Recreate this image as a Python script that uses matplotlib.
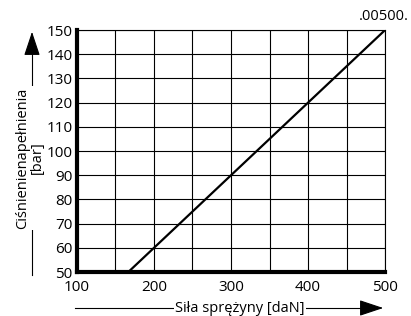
import matplotlib
matplotlib.use("Agg")

import matplotlib.pyplot as plt

# line end points (force in daN, pressure in bar)
force = [166.7, 500]
pressure = [50, 150]
x_ticks = [100, 200, 300, 400, 500]
y_ticks = [50, 60, 70, 80, 90, 100, 110, 120, 130, 140, 150]
corner_label = ".00500."

plt.rcParams["font.family"] = ["Open Sans", "DejaVu Sans"]

fig = plt.figure(figsize=(4.11, 3.16), dpi=100)
ax = fig.add_axes([0.187, 0.139, 0.750, 0.766])

ax.plot(force, pressure, color="black", linewidth=1.6, zorder=3)

ax.set_xlim(100, 500)
ax.set_ylim(50, 150)
ax.set_xticks(range(100, 501, 50))
ax.set_xticklabels(["" if v not in x_ticks else str(v) for v in range(100, 501, 50)])
ax.set_yticks(y_ticks)
ax.set_yticklabels([str(v) for v in y_ticks])
ax.tick_params(length=0, labelsize=11)
ax.tick_params(axis="x", pad=6)
ax.tick_params(axis="y", pad=3)
ax.grid(True, color="black", linewidth=0.8)

for side in ["top", "right"]:
    ax.spines[side].set_linewidth(0.8)
for side in ["left", "bottom"]:
    ax.spines[side].set_linewidth(3)
    ax.spines[side].set_zorder(4)

head = "-|>,head_length=0.6,head_width=0.2"

# y axis arrow with label
fig.add_artist(plt.Line2D([32 / 411, 32 / 411], [1 - 275 / 316, 1 - 40 / 316],
                          color="black", linewidth=0.8))
ax.annotate("", xy=(32 / 411, 1 - 29 / 316), xytext=(32 / 411, 1 - 50 / 316),
            xycoords="figure fraction",
            arrowprops=dict(arrowstyle=head, color="black", lw=0.8, mutation_scale=25))
fig.text(30 / 411, 1 - 158 / 316, "Ciśnienienapełnienia\n[bar]", rotation=90,
         ha="center", va="center", fontsize=10.5, linespacing=0.95,
         bbox=dict(facecolor="white", edgecolor="none", pad=1))

# x axis arrow with label
fig.add_artist(plt.Line2D([75 / 411, 375 / 411], [1 - 308 / 316, 1 - 308 / 316],
                          color="black", linewidth=0.8))
ax.annotate("", xy=(386 / 411, 1 - 308 / 316), xytext=(365 / 411, 1 - 308 / 316),
            xycoords="figure fraction",
            arrowprops=dict(arrowstyle=head, color="black", lw=0.8, mutation_scale=25))
fig.text(240 / 411, 1 - 308 / 316, "Siła sprężyny [daN]", ha="center", va="center",
         fontsize=10.5, bbox=dict(facecolor="white", edgecolor="none", pad=1))

fig.text(409 / 411, 1 - 17 / 316, corner_label, ha="right", va="center", fontsize=10.5)

fig.savefig("out.png", dpi=100)
